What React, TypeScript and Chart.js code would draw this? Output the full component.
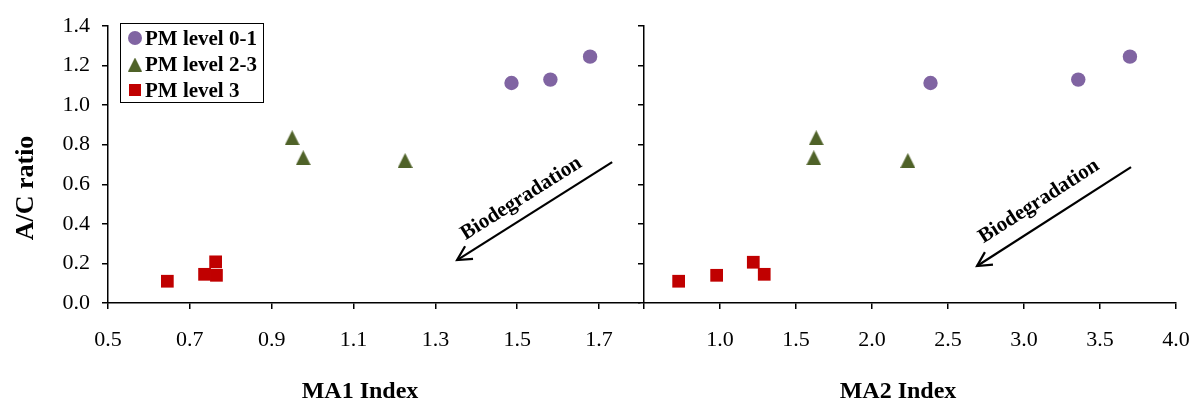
import React, { useEffect, useRef } from 'react';
import { Chart, registerables } from 'chart.js';

Chart.register(...registerables);

// ---------- data ----------
const seriesNames = ['PM level 0-1', 'PM level 2-3', 'PM level 3'];
const seriesColors = ['#8064A2', '#4F6228', '#C00000'];

const yTickValues = [0, 0.2, 0.4, 0.6, 0.8, 1.0, 1.2, 1.4];
const ma1TickValues = [0.5, 0.7, 0.9, 1.1, 1.3, 1.5, 1.7];
const ma2TickValues = [0.5, 1.0, 1.5, 2.0, 2.5, 3.0, 3.5, 4.0];

// PM level 0-1
const pm01MA1 = [1.486, 1.581, 1.678];
const pm01MA2 = [2.385, 3.357, 3.697];
const pm01AC = [1.112, 1.129, 1.245];

// PM level 2-3
const pm23MA1 = [0.95, 0.977, 1.226];
const pm23MA2 = [1.633, 1.617, 2.236];
const pm23AC = [0.835, 0.734, 0.72];

// PM level 3
const pm3MA1 = [0.645, 0.736, 0.763, 0.765];
const pm3ACforMA1 = [0.11, 0.145, 0.208, 0.14];
const pm3MA2 = [0.728, 0.978, 1.219, 1.291];
const pm3ACforMA2 = [0.11, 0.14, 0.206, 0.145];

// annotation arrows (data coordinates)
const arrowMA1 = { from: [1.732, 0.712], to: [1.353, 0.217], text: [1.517, 0.505] };
const arrowMA2 = { from: [3.704, 0.687], to: [2.691, 0.187], text: [3.118, 0.49] };

const SERIF = '"Liberation Serif", "Times New Roman", serif';

function makeTriangle(size: number, color: string): HTMLCanvasElement {
  const c = document.createElement('canvas');
  c.width = size;
  c.height = size;
  const ctx = c.getContext('2d')!;
  ctx.fillStyle = color;
  ctx.beginPath();
  ctx.moveTo(size / 2, 0);
  ctx.lineTo(size, size);
  ctx.lineTo(0, size);
  ctx.closePath();
  ctx.fill();
  return c;
}

function pts(xs: number[], ys: number[]) {
  return xs.map((x, i) => ({ x, y: ys[i] }));
}

function drawArrow(ctx: CanvasRenderingContext2D, x1: number, y1: number, x2: number, y2: number) {
  ctx.save();
  ctx.strokeStyle = '#000';
  ctx.lineWidth = 2.2;
  ctx.beginPath();
  ctx.moveTo(x1, y1);
  ctx.lineTo(x2, y2);
  ctx.stroke();
  const ang = Math.atan2(y2 - y1, x2 - x1);
  const L = 16;
  const spread = Math.PI / 6.5;
  ctx.beginPath();
  ctx.moveTo(x2 - L * Math.cos(ang - spread), y2 - L * Math.sin(ang - spread));
  ctx.lineTo(x2, y2);
  ctx.lineTo(x2 - L * Math.cos(ang + spread), y2 - L * Math.sin(ang + spread));
  ctx.stroke();
  ctx.restore();
}

function buildConfig(opts: {
  xs: number[][];
  ys: number[][];
  xMin: number;
  xMax: number;
  xTicks: number[];
  hideFirstX: boolean;
  showYLabels: boolean;
  yWidth: number;
  padRight: number;
  arrow: { from: number[]; to: number[]; text: number[] };
  xTitle: string;
  xTitleX: number;
  drawLegendAndYTitle: boolean;
}) {
  const tri = makeTriangle(15, seriesColors[1]);
  const triLegend = makeTriangle(14, seriesColors[1]);
  const styles: any[] = ['circle', tri, 'rect'];
  const radii = [7.2, 8, 9];

  const datasets = opts.xs.map((xv, i) => ({
    label: seriesNames[i],
    data: pts(xv, opts.ys[i]),
    backgroundColor: seriesColors[i],
    borderColor: seriesColors[i],
    borderWidth: 0,
    pointStyle: styles[i],
    pointRadius: radii[i],
    pointHoverRadius: radii[i],
    showLine: false,
  }));

  const tickFont = { family: SERIF, size: 22 };
  const gridCfg = {
    display: true,
    drawOnChartArea: false,
    drawTicks: true,
    tickLength: 6,
    color: '#000',
    lineWidth: 1.5,
  };

  const annot = {
    id: 'annot',
    afterDraw(chart: any) {
      const ctx: CanvasRenderingContext2D = chart.ctx;
      const xs = chart.scales.x;
      const ys = chart.scales.y;
      const ca = chart.chartArea;
      // arrow
      const x1 = xs.getPixelForValue(opts.arrow.from[0]);
      const y1 = ys.getPixelForValue(opts.arrow.from[1]);
      const x2 = xs.getPixelForValue(opts.arrow.to[0]);
      const y2 = ys.getPixelForValue(opts.arrow.to[1]);
      drawArrow(ctx, x1, y1, x2, y2);
      // arrow label
      const tx = xs.getPixelForValue(opts.arrow.text[0]);
      const ty = ys.getPixelForValue(opts.arrow.text[1]);
      const ang = Math.atan2(y1 - y2, x1 - x2);
      ctx.save();
      ctx.translate(tx, ty);
      ctx.rotate(ang);
      ctx.font = `bold 21px ${SERIF}`;
      ctx.fillStyle = '#000';
      ctx.textAlign = 'center';
      ctx.textBaseline = 'alphabetic';
      ctx.fillText('Biodegradation', 0, 0);
      ctx.restore();

      // x title
      ctx.save();
      ctx.font = `bold 24px ${SERIF}`;
      ctx.fillStyle = '#000';
      ctx.textAlign = 'center';
      ctx.textBaseline = 'alphabetic';
      ctx.fillText(opts.xTitle, opts.xTitleX, 398);
      ctx.restore();

      if (opts.drawLegendAndYTitle) {
        // y title
        ctx.save();
        ctx.translate(33, 188);
        ctx.rotate(-Math.PI / 2);
        ctx.font = `bold 26px ${SERIF}`;
        ctx.fillStyle = '#000';
        ctx.textAlign = 'center';
        ctx.textBaseline = 'alphabetic';
        ctx.fillText('A/C ratio', 0, 0);
        ctx.restore();

        // legend
        ctx.save();
        const bx = ca.left + 12.5;
        const by = ca.top - 2.5;
        ctx.fillStyle = '#fff';
        ctx.fillRect(bx, by, 143, 79);
        ctx.strokeStyle = '#000';
        ctx.lineWidth = 1;
        ctx.strokeRect(bx, by, 143, 79);
        const rowY = [38, 64.5, 90];
        const mx = ca.left + 27;
        // circle
        ctx.fillStyle = seriesColors[0];
        ctx.beginPath();
        ctx.arc(mx, rowY[0], 7, 0, Math.PI * 2);
        ctx.fill();
        // triangle
        ctx.drawImage(triLegend, mx - 7, rowY[1] - 7);
        // square
        ctx.fillStyle = seriesColors[2];
        ctx.fillRect(mx - 6, rowY[2] - 6, 12, 12);
        ctx.fillStyle = '#000';
        ctx.font = `bold 21px ${SERIF}`;
        ctx.textAlign = 'left';
        ctx.textBaseline = 'alphabetic';
        seriesNames.forEach((n, i) => {
          ctx.fillText(n, ca.left + 37, rowY[i] + 6.5);
        });
        ctx.restore();
      }
    },
  };

  return {
    type: 'scatter' as const,
    data: { datasets },
    options: {
      responsive: false,
      animation: false as const,
      events: [] as any[],
      layout: { padding: { left: 0, right: opts.padRight, top: 26, bottom: 0 } },
      plugins: { legend: { display: false }, tooltip: { enabled: false } },
      scales: {
        x: {
          type: 'linear' as const,
          min: opts.xMin,
          max: opts.xMax,
          afterBuildTicks: (s: any) => {
            s.ticks = opts.xTicks.map((v) => ({ value: v }));
          },
          afterFit: (s: any) => {
            s.height = 98;
          },
          border: { display: true, color: '#000', width: 1.5 },
          grid: gridCfg,
          ticks: {
            autoSkip: false,
            maxRotation: 0,
            color: '#000',
            font: tickFont,
            padding: 18,
            callback: (v: any) => (opts.hideFirstX && Number(v) === opts.xTicks[0] ? '' : Number(v).toFixed(1)),
          },
        },
        y: {
          type: 'linear' as const,
          min: 0,
          max: 1.4,
          afterBuildTicks: (s: any) => {
            s.ticks = yTickValues.map((v) => ({ value: v }));
          },
          afterFit: (s: any) => {
            s.width = opts.yWidth;
          },
          border: { display: true, color: '#000', width: 1.5 },
          grid: gridCfg,
          ticks: {
            autoSkip: false,
            color: '#000',
            font: tickFont,
            padding: 12,
            callback: (v: any) => (opts.showYLabels ? Number(v).toFixed(1) : ''),
          },
        },
      },
    },
    plugins: [annot],
  };
}

export default function App() {
  const leftRef = useRef<HTMLCanvasElement>(null);
  const rightRef = useRef<HTMLCanvasElement>(null);

  useEffect(() => {
    const left = new Chart(
      leftRef.current!,
      buildConfig({
        xs: [pm01MA1, pm23MA1, pm3MA1],
        ys: [pm01AC, pm23AC, pm3ACforMA1],
        xMin: 0.5,
        xMax: 1.8,
        xTicks: ma1TickValues,
        hideFirstX: false,
        showYLabels: true,
        yWidth: 108,
        padRight: 20,
        arrow: arrowMA1,
        xTitle: 'MA1 Index',
        xTitleX: 360,
        drawLegendAndYTitle: true,
      }) as any
    );
    const right = new Chart(
      rightRef.current!,
      buildConfig({
        xs: [pm01MA2, pm23MA2, pm3MA2],
        ys: [pm01AC, pm23AC, pm3ACforMA2],
        xMin: 0.5,
        xMax: 4.0,
        xTicks: ma2TickValues,
        hideFirstX: true,
        showYLabels: false,
        yWidth: 44,
        padRight: 44,
        arrow: arrowMA2,
        xTitle: 'MA2 Index',
        xTitleX: 298,
        drawLegendAndYTitle: false,
      }) as any
    );
    return () => {
      left.destroy();
      right.destroy();
    };
  }, []);

  return (
    <div
      style={{
        position: 'fixed',
        left: 0,
        top: 0,
        width: 1193,
        height: 401,
        background: '#fff',
        overflow: 'hidden',
      }}
    >
      <canvas ref={leftRef} width={660} height={401} style={{ position: 'absolute', left: 0, top: 0 }} />
      <canvas ref={rightRef} width={620} height={401} style={{ position: 'absolute', left: 600, top: 0 }} />
    </div>
  );
}
